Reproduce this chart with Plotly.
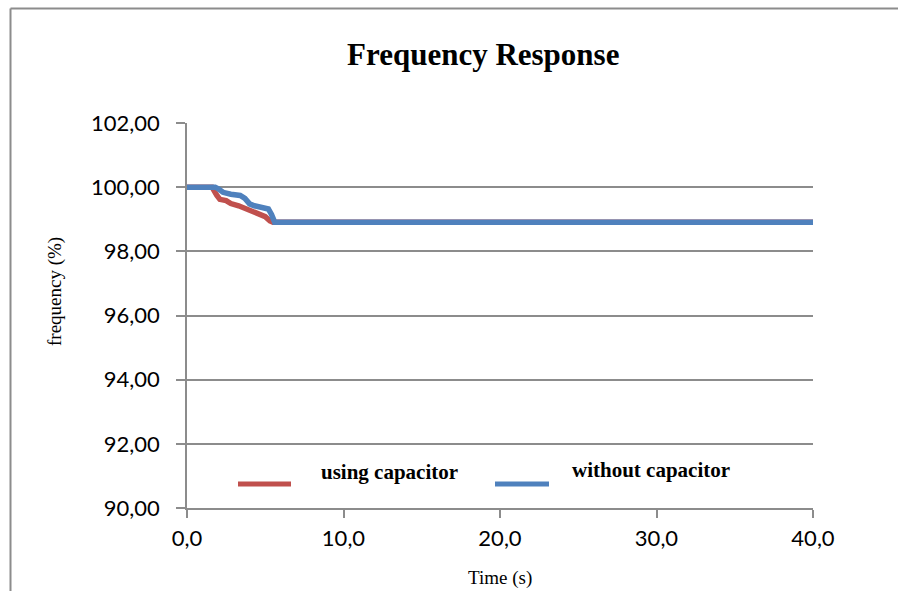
import plotly.graph_objects as go

# Data
t_cap = [0.0, 1.6, 1.9, 2.1, 2.5, 2.8, 3.3, 3.8, 4.3, 4.7, 5.0, 5.3, 5.5, 10.0, 20.0, 30.0, 40.0]
f_cap = [100.0, 100.0, 99.75, 99.62, 99.58, 99.49, 99.42, 99.33, 99.25, 99.17, 99.08, 98.95, 98.91, 98.91, 98.91, 98.91, 98.91]

t_nocap = [0.0, 1.8, 2.0, 2.3, 2.8, 3.4, 3.7, 4.0, 4.3, 4.8, 5.2, 5.4, 5.6, 10.0, 20.0, 30.0, 40.0]
f_nocap = [100.0, 100.0, 99.95, 99.84, 99.78, 99.74, 99.65, 99.48, 99.42, 99.38, 99.32, 99.15, 98.91, 98.91, 98.91, 98.91, 98.91]

series_names = ["using capacitor", "without capacitor"]
series_colors = ["#C0504D", "#4F81BD"]

y_ticks = [90, 92, 94, 96, 98, 100, 102]
y_tick_labels = ["90,00", "92,00", "94,00", "96,00", "98,00", "100,00", "102,00"]
x_ticks = [0, 10, 20, 30, 40]
x_tick_labels = ["0,0", "10,0", "20,0", "30,0", "40,0"]

W, H = 898, 591
L, R, T, B = 187, 85, 123, 83
PW, PH = W - L - R, H - T - B


def px(x):
    return (x - L) / PW


def py(y):
    return (H - B - y) / PH


fig = go.Figure()
fig.add_trace(go.Scatter(x=t_cap, y=f_cap, mode="lines", name=series_names[0],
                         line=dict(color=series_colors[0], width=5.5), showlegend=False))
fig.add_trace(go.Scatter(x=t_nocap, y=f_nocap, mode="lines", name=series_names[1],
                         line=dict(color=series_colors[1], width=5.5), showlegend=False))

grid = "#8c8c8c"
serif = "Liberation Serif"

# outer chart frame (open at right and bottom, as in the reference)
shapes = [
    dict(type="line", xref="paper", yref="paper",
         x0=px(10.5), x1=px(10.5), y0=py(H), y1=py(8.5),
         line=dict(color=grid, width=2)),
    dict(type="line", xref="paper", yref="paper",
         x0=px(10.5), x1=px(W), y0=py(8.5), y1=py(8.5),
         line=dict(color=grid, width=2)),
]
annotations = []
# manual legend (inside plot area)
leg = [(238, 291, 484, 319, 472), (495, 549, 484, 570, 470)]
for (lx0, lx1, ly, tx, ty), name, col in zip(leg, series_names, series_colors):
    shapes.append(dict(type="line", xref="paper", yref="paper",
                       x0=px(lx0), x1=px(lx1), y0=py(ly), y1=py(ly),
                       line=dict(color=col, width=5)))
    annotations.append(dict(xref="paper", yref="paper", x=px(tx), y=py(ty),
                            xanchor="left", yanchor="middle", showarrow=False,
                            text="<b>" + name + "</b>",
                            font=dict(family=serif, size=21, color="black")))
# axis titles
annotations.append(dict(xref="paper", yref="paper", x=px(500), y=py(578),
                        xanchor="center", yanchor="middle", showarrow=False,
                        text="Time (s)", font=dict(family=serif, size=19, color="black")))
annotations.append(dict(xref="paper", yref="paper", x=px(55), y=py(292),
                        xanchor="center", yanchor="middle", showarrow=False, textangle=-90,
                        text="frequency (%)", font=dict(family=serif, size=19, color="black")))
annotations.append(dict(xref="paper", yref="paper", x=px(483), y=py(55),
                        xanchor="center", yanchor="middle", showarrow=False,
                        text="<b>Frequency Response</b>",
                        font=dict(family=serif, size=31, color="black")))

fig.update_layout(
    width=W, height=H,
    margin=dict(l=L, r=R, t=T, b=B),
    paper_bgcolor="white", plot_bgcolor="white",
    xaxis=dict(range=[0, 40], tickvals=x_ticks, ticktext=x_tick_labels,
               showgrid=False, zeroline=False, showline=True, linecolor=grid, linewidth=1.5,
               ticks="outside", ticklen=8, tickcolor=grid, tickwidth=1.5,
               ticklabelstandoff=2,
               tickfont=dict(family="Lato", size=22, color="black")),
    yaxis=dict(range=[90, 102], tickvals=y_ticks, ticktext=y_tick_labels,
               showgrid=True, gridcolor=grid, gridwidth=1.5, zeroline=False,
               showline=True, linecolor=grid, linewidth=1.5,
               ticks="outside", ticklen=9, tickcolor=grid, tickwidth=1.5,
               ticklabelstandoff=12,
               tickfont=dict(family="Lato", size=22, color="black")),
    showlegend=False,
    shapes=shapes,
    annotations=annotations,
)

fig.write_html("out.html")
